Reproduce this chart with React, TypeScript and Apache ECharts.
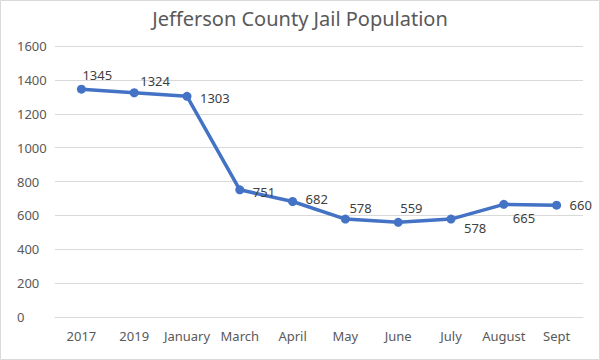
import React, { useEffect, useRef } from "react";
import * as echarts from "echarts";

const categories = ["2017", "2019", "January", "March", "April", "May", "June", "July", "August", "Sept"];
const population = [1345, 1324, 1303, 751, 682, 578, 559, 578, 665, 660];
const labelOffsets: [number, number][] = [
  [1, -14], [6, -12], [13, 2], [13, 2], [13, -2], [4, -11], [2, -14], [13, 9], [9, 14], [13, 0],
];

export default function App() {
  const ref = useRef<HTMLDivElement>(null);
  useEffect(() => {
    document.body.style.margin = "0";
    const chart = echarts.init(ref.current!, undefined, { renderer: "svg" });
    const font = "'Noto Sans', sans-serif";
    chart.setOption({
      animation: false,
      backgroundColor: "#ffffff",
      title: {
        text: "Jefferson County Jail Population",
        left: "center",
        top: 3,
        textStyle: { fontFamily: font, fontSize: 20, fontWeight: "normal", color: "#595959" },
      },
      graphic: [
        {
          type: "rect",
          shape: { x: 0.5, y: 0.5, width: 599, height: 359 },
          style: { fill: "none", stroke: "#d9d9d9", lineWidth: 1 },
          silent: true,
        },
      ],
      grid: { left: 55, right: 17, top: 46, bottom: 43 },
      xAxis: {
        type: "category",
        data: categories,
        boundaryGap: true,
        axisLine: { lineStyle: { color: "#d9d9d9" } },
        axisTick: { show: false },
        axisLabel: { fontFamily: font, fontSize: 13, color: "#595959", margin: 12, interval: 0 },
      },
      yAxis: {
        type: "value",
        min: 0,
        max: 1600,
        interval: 200,
        axisLine: { show: false },
        axisTick: { show: false },
        splitLine: { lineStyle: { color: "#d9d9d9", width: 1 } },
        axisLabel: {
          fontFamily: font,
          fontSize: 13,
          color: "#595959",
          align: "left",
          margin: 38,
          formatter: (v: number) => String(v),
        },
      },
      series: [
        {
          type: "line",
          data: population.map((v, i) => ({
            value: v,
            label: { offset: [labelOffsets[i][0] - 4.5, labelOffsets[i][1]] },
          })),
          symbol: "circle",
          symbolSize: 9,
          lineStyle: { color: "#4472C4", width: 3.5 },
          itemStyle: { color: "#4472C4" },
          label: {
            show: true,
            position: "right",
            distance: 0,
            align: "left",
            verticalAlign: "middle",
            fontFamily: font,
            fontSize: 13,
            color: "#404040",
          },
        },
      ],
    });
    return () => chart.dispose();
  }, []);
  return <div ref={ref} style={{ position: "absolute", left: 0, top: 0, width: 600, height: 360 }} />;
}
